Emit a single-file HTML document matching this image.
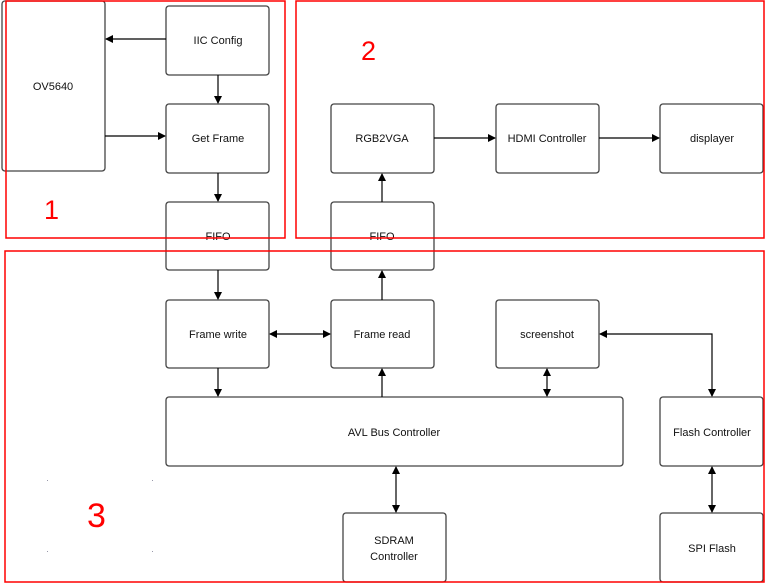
<!DOCTYPE html>
<html><head><meta charset="utf-8"><style>
html,body{margin:0;padding:0;background:#fff;width:765px;height:584px;overflow:hidden}
svg{display:block}
text{font-family:"Liberation Sans",sans-serif;font-size:11px;fill:#111}
</style></head><body>
<svg width="765" height="584" viewBox="0 0 765 584" xmlns="http://www.w3.org/2000/svg">
<defs>
<marker id="a" markerWidth="8" markerHeight="8" refX="7" refY="4" orient="auto" markerUnits="userSpaceOnUse">
<path d="M0,0 L8,4 L0,8 z" fill="#000"/></marker>
<marker id="s" markerWidth="8" markerHeight="8" refX="1" refY="4" orient="auto" markerUnits="userSpaceOnUse">
<path d="M8,0 L0,4 L8,8 z" fill="#000"/></marker>
</defs>
<g fill="#fff" stroke="#444" stroke-width="1.3">
<rect x="2" y="1" width="103" height="170" rx="3"/>
<rect x="166" y="6" width="103" height="69" rx="3"/>
<rect x="166" y="104" width="103" height="69" rx="3"/>
<rect x="166" y="202" width="103" height="68" rx="3"/>
<rect x="331" y="202" width="103" height="68" rx="3"/>
<rect x="331" y="104" width="103" height="69" rx="3"/>
<rect x="496" y="104" width="103" height="69" rx="3"/>
<rect x="660" y="104" width="103" height="69" rx="3"/>
<rect x="166" y="300" width="103" height="68" rx="3"/>
<rect x="331" y="300" width="103" height="68" rx="3"/>
<rect x="496" y="300" width="103" height="68" rx="3"/>
<rect x="166" y="397" width="457" height="69" rx="3"/>
<rect x="660" y="397" width="103" height="69" rx="3"/>
<rect x="343" y="513" width="103" height="69" rx="3"/>
<rect x="660" y="513" width="103" height="69" rx="3"/>
</g>
<g stroke="#000" stroke-width="1.2" fill="none">
<line x1="166" y1="39" x2="106" y2="39" marker-end="url(#a)"/>
<line x1="105" y1="136" x2="165" y2="136" marker-end="url(#a)"/>
<line x1="218" y1="75" x2="218" y2="103" marker-end="url(#a)"/>
<line x1="218" y1="173" x2="218" y2="201" marker-end="url(#a)"/>
<line x1="218" y1="270" x2="218" y2="299" marker-end="url(#a)"/>
<line x1="218" y1="368" x2="218" y2="396" marker-end="url(#a)"/>
<line x1="382" y1="202" x2="382" y2="174" marker-end="url(#a)"/>
<line x1="382" y1="300" x2="382" y2="271" marker-end="url(#a)"/>
<line x1="382" y1="397" x2="382" y2="369" marker-end="url(#a)"/>
<line x1="434" y1="138" x2="495" y2="138" marker-end="url(#a)"/>
<line x1="599" y1="138" x2="659" y2="138" marker-end="url(#a)"/>
<line x1="270" y1="334" x2="330" y2="334" marker-start="url(#s)" marker-end="url(#a)"/>
<line x1="547" y1="369" x2="547" y2="396" marker-start="url(#s)" marker-end="url(#a)"/>
<polyline points="600,334 712,334 712,396" marker-start="url(#s)" marker-end="url(#a)"/>
<line x1="396" y1="467" x2="396" y2="512" marker-start="url(#s)" marker-end="url(#a)"/>
<line x1="712" y1="467" x2="712" y2="512" marker-start="url(#s)" marker-end="url(#a)"/>
</g>
<g text-anchor="middle">
<text x="53" y="90">OV5640</text>
<text x="218" y="44">IIC Config</text>
<text x="218" y="142">Get Frame</text>
<text x="218" y="240">FIFO</text>
<text x="382" y="240">FIFO</text>
<text x="382" y="142">RGB2VGA</text>
<text x="547" y="142">HDMI Controller</text>
<text x="712" y="142">displayer</text>
<text x="218" y="338">Frame write</text>
<text x="382" y="338">Frame read</text>
<text x="547" y="338">screenshot</text>
<text x="394" y="436">AVL Bus Controller</text>
<text x="712" y="436">Flash Controller</text>
<text x="394" y="544">SDRAM</text>
<text x="394" y="560">Controller</text>
<text x="712" y="552">SPI Flash</text>
</g>
<g fill="none" stroke="#f00" stroke-width="1.5">
<rect x="6" y="1" width="279" height="237"/>
<rect x="296" y="1" width="468" height="237"/>
<rect x="5" y="251" width="759" height="331"/>
</g>
<g fill="#f00" style="fill:#f00">
<text x="44" y="219" style="font-size:27px;fill:#f00">1</text>
<text x="361" y="60" style="font-size:27px;fill:#f00">2</text>
<text x="87" y="527" style="font-size:34px;fill:#f00">3</text>
</g>
<g fill="#99a">
<rect x="47" y="480" width="1" height="1"/><rect x="152" y="480" width="1" height="1"/>
<rect x="47" y="551" width="1" height="1"/><rect x="152" y="551" width="1" height="1"/>
</g>
</svg>
</body></html>
